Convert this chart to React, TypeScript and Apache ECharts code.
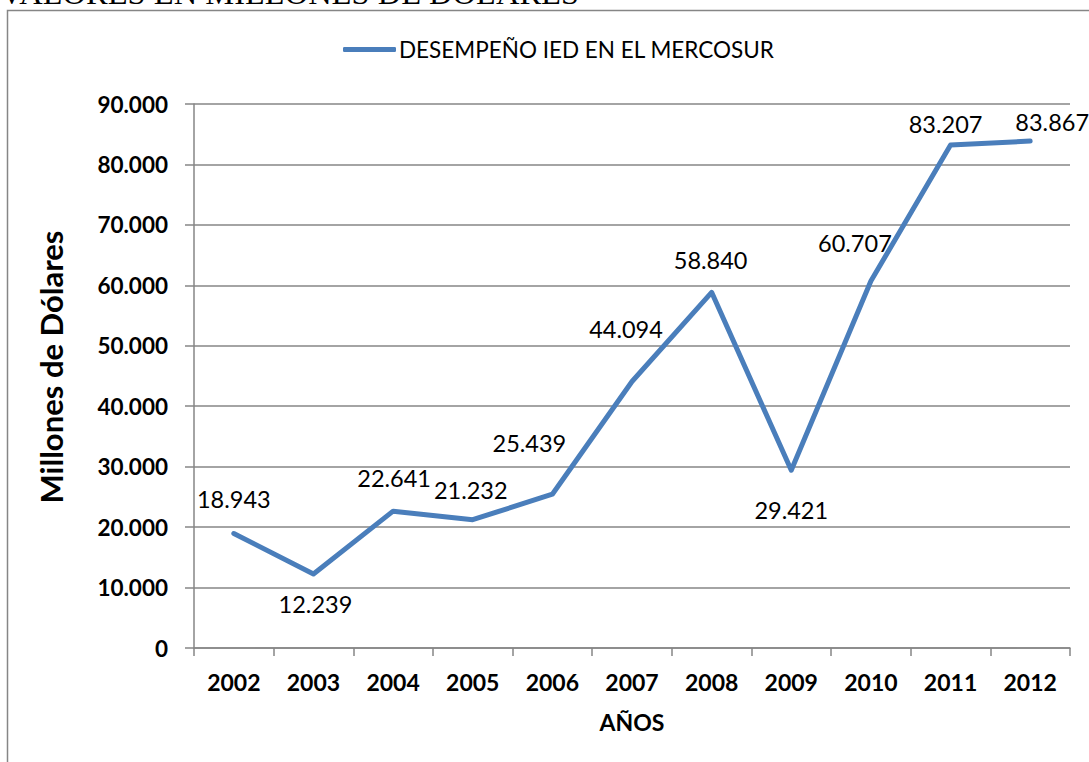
import React, { useEffect, useRef } from "react";
import * as echarts from "echarts";

const years = ["2002", "2003", "2004", "2005", "2006", "2007", "2008", "2009", "2010", "2011", "2012"];
const values = [18943, 12239, 22641, 21232, 25439, 44094, 58840, 29421, 60707, 83207, 83867];
const labelOffsets: [number, number][] = [
  [0, -35], [2, 30], [1, -33], [-2, -30], [-23, -51], [-6, -52],
  [-1, -32], [0, 40], [-16, -38], [-5, -21], [22, -19],
];
const seriesName = "DESEMPEÑO IED EN EL MERCOSUR";
const titleText = "VALORES EN MILLONES DE DÓLARES";

const fmt = (v: number) => {
  const s = String(Math.round(v));
  return s.replace(/\B(?=(\d{3})+(?!\d))/g, ".");
};

const FONT = "Lato, 'Open Sans', sans-serif";
const GRAY = "#868686";
const BLUE = "#4a7ebb";

export default function App() {
  const ref = useRef<HTMLDivElement>(null);
  useEffect(() => {
    if (!ref.current) return;
    const chart = echarts.init(ref.current, null, { renderer: "svg" });
    chart.setOption({
      animation: false,
      backgroundColor: "#fff",
      graphic: [
        {
          type: "rect",
          shape: { x: 7.5, y: 10.5, width: 1200, height: 800 },
          style: { fill: "none", stroke: GRAY, lineWidth: 1.5 },
          silent: true,
        },
        {
          type: "text",
          x: 0,
          y: 9.5,
          style: {
            text: titleText,
            font: "32.5px 'Liberation Serif', serif",
            fill: "#000",
            verticalAlign: "bottom",
          },
        },
      ],
      legend: {
        left: 338,
        top: 33,
        icon: "roundRect",
        itemWidth: 53,
        itemHeight: 5,
        itemGap: 10,
        textStyle: { fontFamily: FONT, fontSize: 22.5, color: "#000", padding: [0, 0, 0, -2] },
        data: [seriesName],
      },
      grid: { left: 194, right: 19, top: 104, bottom: 114, containLabel: false },
      xAxis: {
        type: "category",
        data: years,
        boundaryGap: true,
        name: "AÑOS",
        nameLocation: "middle",
        nameGap: 62,
        nameTextStyle: { fontFamily: FONT, fontSize: 23, fontWeight: "bold", color: "#000" },
        axisLine: { lineStyle: { color: GRAY, width: 1.5 } },
        axisTick: { show: true, length: 8, lineStyle: { color: GRAY, width: 1.5 } },
        axisLabel: { fontFamily: FONT, fontSize: 23, fontWeight: "bold", color: "#000", margin: 22 },
        splitLine: { show: false },
      },
      yAxis: {
        type: "value",
        min: 0,
        max: 90000,
        interval: 10000,
        name: "Millones de Dólares",
        nameLocation: "middle",
        nameGap: 128,
        nameRotate: 90,
        nameTextStyle: {
          fontFamily: FONT,
          fontSize: 31,
          fontWeight: "bold",
          color: "#000",
          padding: [0, 0, 0, 18],
        },
        axisLine: { show: true, lineStyle: { color: GRAY, width: 1.5 } },
        axisTick: { show: true, length: 9, lineStyle: { color: GRAY, width: 1.5 } },
        axisLabel: {
          fontFamily: FONT,
          fontSize: 22.5,
          fontWeight: "bold",
          color: "#000",
          margin: 26,
          formatter: (v: number) => fmt(v),
        },
        splitLine: { show: true, lineStyle: { color: GRAY, width: 1.5 } },
      },
      series: [
        {
          name: seriesName,
          type: "line",
          data: values.map((v, i) => ({
            value: v,
            label: { offset: labelOffsets[i] },
          })),
          symbol: "circle",
          symbolSize: 2,
          showSymbol: true,
          itemStyle: { color: BLUE },
          lineStyle: { color: BLUE, width: 5, cap: "round", join: "round" },
          label: {
            show: true,
            position: "inside",
            color: "#000",
            fontFamily: FONT,
            fontSize: 23.5,
            formatter: (p: any) => fmt(p.value),
          },
        },
      ],
    });
    return () => chart.dispose();
  }, []);
  return (
    <div
      ref={ref}
      style={{ position: "fixed", left: 0, top: 0, width: 1089, height: 762 }}
    />
  );
}
